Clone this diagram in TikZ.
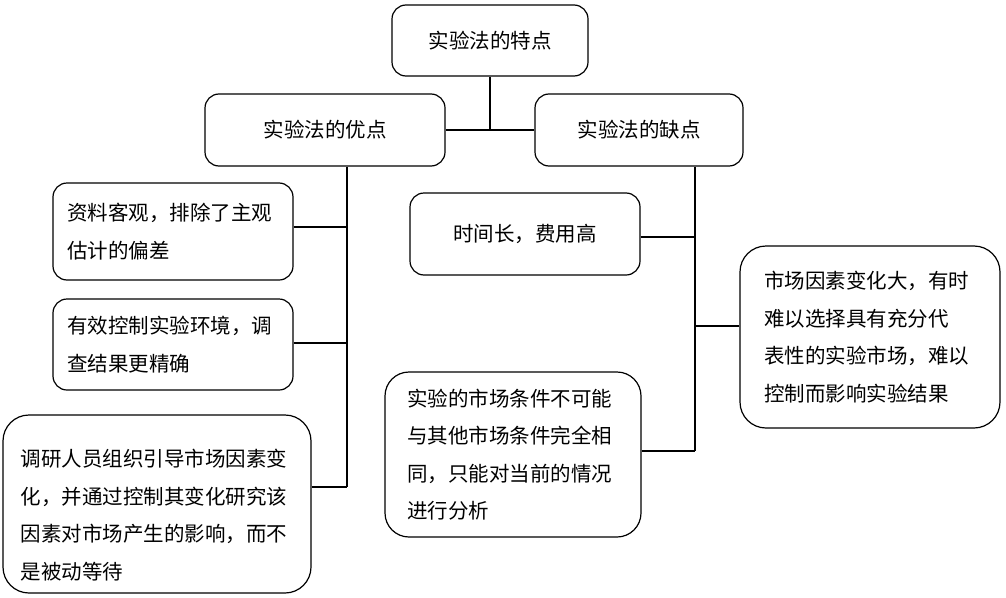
\documentclass[tikz,border=0pt]{standalone}
\usepackage{fontspec}
\newfontfamily\cjk{Noto Sans CJK SC}
\begin{document}
\begin{tikzpicture}[x=1pt,y=-1pt,
  box/.style={draw, line width=1.2pt, rounded corners=14pt, inner sep=0pt,
    font=\cjk\fontsize{20.5}{37.5}\selectfont},
  multi/.style={box, align=left},
  txt/.style={inner sep=0pt, align=left, font=\cjk\fontsize{20.5}{37.5}\selectfont},
  link/.style={line width=1.2pt}]
\useasboundingbox (0,0) rectangle (1006,597);
\node[box, minimum width=196pt, minimum height=71pt] (top) at (490,40.5) {实验法的特点};
\node[box, minimum width=240pt, minimum height=72pt] (yo) at (325,130) {实验法的优点};
\node[box, minimum width=208pt, minimum height=72pt] (que) at (639,130) {实验法的缺点};
\node[multi, minimum width=240pt, minimum height=97pt, text width=212pt] (a1) at (173,231.5) {资料客观，排除了主观\\估计的偏差};
\node[multi, minimum width=240pt, minimum height=91pt, text width=212pt] (a2) at (173,344.5) {有效控制实验环境，调\\查结果更精确};
\node[box, rounded corners=26pt, minimum width=308pt, minimum height=178pt] (a3) at (157,504) {};
\node[txt, text width=277pt] (a3t) at ([xshift=2pt,yshift=-11pt]a3.center) {调研人员组织引导市场因素变\\化，并通过控制其变化研究该\\因素对市场产生的影响，而不\\是被动等待};
\node[box, minimum width=230pt, minimum height=82pt] (b1) at (525,234) {时间长，费用高};
\node[multi, rounded corners=26pt, minimum width=260pt, minimum height=182pt, text width=212pt] (b2) at (870,337) {市场因素变化大，有时\\难以选择具有充分代\\表性的实验市场，难以\\控制而影响实验结果};
\node[multi, rounded corners=24pt, minimum width=256pt, minimum height=165pt, text width=212pt] (b3) at (513,454.5) {实验的市场条件不可能\\与其他市场条件完全相\\同，只能对当前的情况\\进行分析};
% top connectors
\draw[link] (yo.east) -- (que.west);
\draw[link] (top.south) -- (top.south |- yo.east);
% left spine
\coordinate (lx) at (347,0);
\coordinate (a1c) at ([yshift=4.5pt]a1.east);
\coordinate (a2c) at ([yshift=1.5pt]a2.east);
\coordinate (a3c) at ([yshift=17pt]a3.east);
\draw[link] (lx |- yo.south) -- (lx |- a3c);
\draw[link] (a1c) -- (lx |- a1c);
\draw[link] (a2c) -- (lx |- a2c);
\draw[link] (a3c) -- (lx |- a3c);
% right spine
\coordinate (rx) at (695,0);
\coordinate (b1c) at ([yshift=-3pt]b1.east);
\coordinate (b2c) at ([yshift=11pt]b2.west);
\coordinate (b3c) at ([yshift=3.5pt]b3.east);
\draw[link] (rx |- que.south) -- (rx |- b3c);
\draw[link] (b1c) -- (rx |- b1c);
\draw[link] (b2c) -- (rx |- b2c);
\draw[link] (b3c) -- (rx |- b3c);
\end{tikzpicture}
\end{document}
